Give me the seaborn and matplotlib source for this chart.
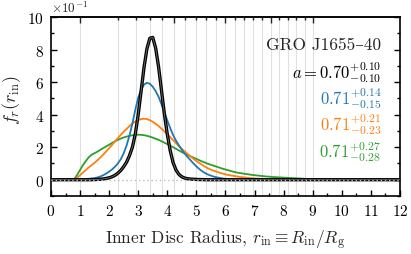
import numpy as np
import pandas as pd
import matplotlib
matplotlib.use("Agg")
import matplotlib.pyplot as plt
from matplotlib.ticker import MultipleLocator, FixedLocator
import seaborn as sns

# ---------------- data (f_r in units of 1e-1) ----------------
r_grid = np.round(np.arange(121) * 0.1, 1)   # 0.0 ... 12.0

f_black = [0.0] * 15 + [
    0.01, 0.02, 0.03, 0.05, 0.08, 0.12, 0.18, 0.27, 0.40, 0.57,
    0.80, 1.08, 1.48, 2.00, 2.80, 4.00, 5.45, 6.90, 8.05, 8.70,
    8.75, 8.10, 6.95, 5.50, 4.05, 2.80, 1.80, 1.05, 0.60, 0.33,
    0.18, 0.10, 0.06, 0.04, 0.03, 0.02, 0.01, 0.01] + [0.0] * 68

f_blue = [0.0] * 9 + [
    0.01, 0.02, 0.03, 0.04, 0.06, 0.08, 0.10, 0.14, 0.20, 0.28,
    0.38, 0.50, 0.63, 0.80, 1.00, 1.26, 1.62, 2.10, 2.72, 3.45,
    4.30, 5.05, 5.55, 5.85, 5.96, 5.90, 5.72, 5.45, 5.10, 4.65,
    4.15, 3.65, 3.18, 2.75, 2.40, 2.12, 1.84, 1.60, 1.40, 1.20,
    1.00, 0.82, 0.66, 0.52, 0.41, 0.32, 0.25, 0.19, 0.15, 0.11,
    0.08, 0.06, 0.04, 0.03, 0.02, 0.01, 0.01] + [0.0] * 55

f_orange = [0.0] * 8 + [
    0.02, 0.12, 0.28, 0.44, 0.60, 0.76, 0.90, 1.04, 1.20, 1.37,
    1.55, 1.74, 1.94, 2.14, 2.35, 2.56, 2.76, 2.95, 3.12, 3.30,
    3.45, 3.58, 3.67, 3.73, 3.75, 3.73, 3.66, 3.56, 3.44, 3.30,
    3.14, 2.97, 2.80, 2.62, 2.44, 2.25, 2.06, 1.90, 1.74, 1.58,
    1.43, 1.29, 1.15, 1.03, 0.91, 0.80, 0.70, 0.62, 0.55, 0.49,
    0.43, 0.38, 0.33, 0.29, 0.26, 0.23, 0.20, 0.17, 0.15, 0.13,
    0.11, 0.09, 0.08, 0.07, 0.06, 0.05, 0.04, 0.03, 0.03, 0.02,
    0.02, 0.01, 0.01] + [0.0] * 40

f_green = [0.0] * 8 + [
    0.03, 0.30, 0.60, 0.90, 1.15, 1.38, 1.54, 1.63, 1.73, 1.84,
    1.95, 2.05, 2.15, 2.26, 2.36, 2.45, 2.53, 2.60, 2.65, 2.70,
    2.73, 2.76, 2.77, 2.76, 2.74, 2.70, 2.65, 2.59, 2.52, 2.45,
    2.37, 2.28, 2.19, 2.10, 2.00, 1.90, 1.80, 1.70, 1.61, 1.52,
    1.44, 1.36, 1.28, 1.20, 1.12, 1.05, 0.98, 0.92, 0.86, 0.80,
    0.74, 0.68, 0.63, 0.58, 0.53, 0.48, 0.44, 0.41, 0.38, 0.35,
    0.33, 0.30, 0.28, 0.26, 0.24, 0.22, 0.20, 0.19, 0.17, 0.16,
    0.15, 0.14, 0.13, 0.12, 0.11, 0.10, 0.09, 0.08, 0.07, 0.06,
    0.05, 0.04, 0.03, 0.03, 0.02, 0.02, 0.01, 0.01] + [0.0] * 25

# ISCO radii for spins a = 1.0, 0.9, ..., -1.0
isco_radii = [1.00, 2.32, 2.91, 3.39, 3.83, 4.23, 4.61, 4.98, 5.33, 5.67, 6.00,
              6.32, 6.64, 6.95, 7.25, 7.55, 7.85, 8.14, 8.43, 8.72, 9.00]
isco_major = [1.00, 4.23, 6.00, 7.55, 9.00]

labels = [r"$a = 0.70^{+0.10}_{-0.10}$", r"$0.71^{+0.14}_{-0.15}$",
          r"$0.71^{+0.21}_{-0.23}$", r"$0.71^{+0.27}_{-0.28}$"]

# ---------------- style ----------------
sns.set_theme(style="ticks")
plt.rcParams["font.family"] = ["cmr10", "DejaVu Serif"]
plt.rcParams["mathtext.fontset"] = "cm"
plt.rcParams["axes.formatter.use_mathtext"] = True
plt.rcParams["axes.unicode_minus"] = False

tab = sns.color_palette("tab10")
c_blue, c_orange, c_green = tab[0], tab[1], tab[2]

fig = plt.figure(figsize=(4.11, 2.55), dpi=100)
ax = fig.add_axes([0.124, 0.2275, 0.849, 0.7015])

for r in isco_radii:
    ax.axvline(r, color="#e0e0e0", lw=0.8, zorder=0)

df = pd.DataFrame({
    "r": np.concatenate([r_grid] * 3),
    "f": np.concatenate([f_green, f_orange, f_blue]),
    "model": ["green"] * 121 + ["orange"] * 121 + ["blue"] * 121,
})
sns.lineplot(data=df, x="r", y="f", hue="model",
             palette={"green": c_green, "orange": c_orange, "blue": c_blue},
             lw=1.3, legend=False, ax=ax, zorder=3)

sns.lineplot(x=r_grid, y=f_black, color="black", lw=2.4, ax=ax, zorder=4)
sns.lineplot(x=r_grid, y=f_black, color="#707070", lw=0.6, ax=ax, zorder=4.5)

ax.axhline(0, color="#bdbdbd", lw=1.0, ls=(0, (1, 2)), zorder=6)

ax.set_xlim(0, 12)
ax.set_ylim(-1, 10)
ax.set_xticks(range(13))
ax.xaxis.set_minor_locator(MultipleLocator(0.5))
ax.set_yticks(range(0, 11, 2))
ax.yaxis.set_minor_locator(MultipleLocator(1))
ax.tick_params(axis="both", which="both", direction="in", top=False, right=True,
               labelsize=11, width=1.0, colors="black", pad=5)
ax.tick_params(which="major", length=4)
ax.tick_params(which="minor", length=2)
for s in ax.spines.values():
    s.set_linewidth(1.2)
    s.set_color("black")

axt = ax.secondary_xaxis("top")
axt.set_xticks(isco_major)
axt.xaxis.set_minor_locator(FixedLocator(isco_radii))
axt.tick_params(which="both", direction="in", labeltop=False, width=1.0)
axt.tick_params(which="major", length=4)
axt.tick_params(which="minor", length=2.5)
axt.spines["top"].set_linewidth(1.2)

ax.set_xlabel(r"Inner Disc Radius, $r_{\rm in} \equiv R_{\rm in}/R_{\rm g}$", fontsize=12.5)
ax.xaxis.set_label_coords(0.5, -0.175)
ax.set_ylabel(r"$f_r(r_{\rm in})$", fontsize=13)
ax.yaxis.set_label_coords(-0.08, 0.54)

ax.text(0.0, 1.01, r"$\times10^{-1}$", transform=ax.transAxes, ha="left", va="bottom", fontsize=9.5)

ax.text(0.947, 0.849, "GRO J1655\u201340", transform=ax.transAxes, ha="right", va="center", fontsize=12.5)
ys = [0.695, 0.553, 0.402, 0.253]
cols = ["black", c_blue, c_orange, c_green]
for lab, yy, cc in zip(labels, ys, cols):
    ax.text(0.947, yy, lab, transform=ax.transAxes, ha="right", va="center", fontsize=12, color=cc)

fig.savefig("out.png", dpi=100)
